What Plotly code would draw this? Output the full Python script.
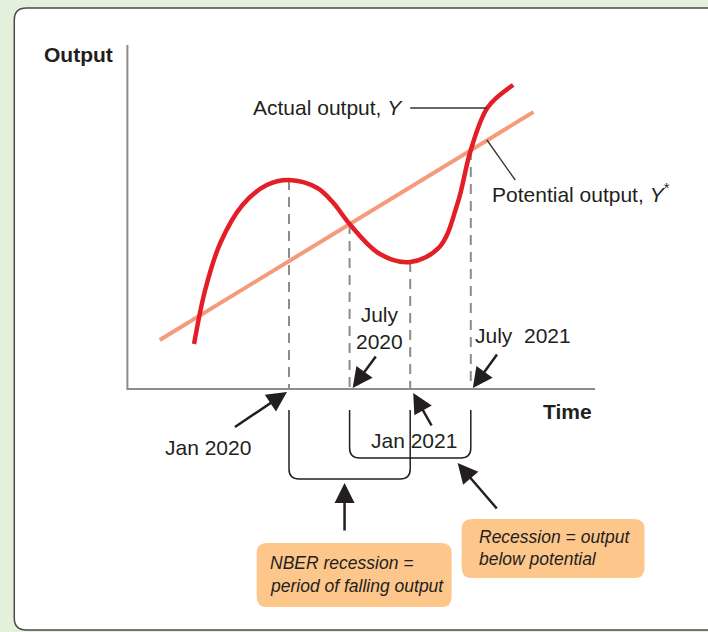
import plotly.graph_objects as go

# time in months counted from January 2020, output in index units
months = [-9.4, -8.3, -6.8, -4.6, -2.2, 0, 2.8, 4.4, 6, 9.0, 12, 14.9, 16.7, 18,
          19.7, 22.2]
actual_output = [4.5, 9.9, 14.6, 18.4, 20.4, 20.9, 20.1, 18.6, 16.5, 13.5, 12.7,
                 14.2, 18.6, 23.9, 28.2, 30.4]
potential_months = [-12.8, 24.2]
potential_output = [4.9, 27.7]

event_months = [0, 6, 12, 18]
event_labels = ["Jan 2020", "July<br>2020", "Jan 2021", "July\u00a0 2021"]
nber_recession = [0, 12]        # peak to trough
below_potential = [6, 18]       # output under potential

RED = "#e41e26"
SALMON = "#f59b7b"
GREY = "#8c8c8c"
INK = "#231f20"
ORANGE = "#fdc68b"
FONT = "Liberation Sans, Arial, sans-serif"

y_axis_at = -16.0
x_axis_end = 30.3
y_axis_top = 34.4


def rounded_rect(x0, x1, y0, y1, r=1.0):
    return (f"M {x0+r},{y1} L {x1-r},{y1} Q {x1},{y1} {x1},{y1-r} "
            f"L {x1},{y0+r} Q {x1},{y0} {x1-r},{y0} L {x0+r},{y0} "
            f"Q {x0},{y0} {x0},{y0+r} L {x0},{y1-r} Q {x0},{y1} {x0+r},{y1} Z")


def bracket(x0, x1, top, bottom, r=1.0):
    return (f"M {x0},{top} L {x0},{bottom+r} Q {x0},{bottom} {x0+r},{bottom} "
            f"L {x1-r},{bottom} Q {x1},{bottom} {x1},{bottom+r} L {x1},{top}")


def value_at(m):
    return actual_output[months.index(m)]


fig = go.Figure()

# axes
fig.add_trace(go.Scatter(x=[y_axis_at, y_axis_at, x_axis_end], y=[y_axis_top, 0, 0],
                         mode="lines", line=dict(color=GREY, width=2)))

# dashed drop lines
for m in event_months:
    fig.add_trace(go.Scatter(x=[m, m], y=[value_at(m), 0], mode="lines",
                             line=dict(color=GREY, width=2, dash="10px,7px")))

fig.add_trace(go.Scatter(x=potential_months, y=potential_output, mode="lines",
                         line=dict(color=SALMON, width=4)))
fig.add_trace(go.Scatter(x=months, y=actual_output, mode="lines",
                         line=dict(color=RED, width=4.5, shape="spline", smoothing=1)))

# leader lines
fig.add_trace(go.Scatter(x=[12.0, 19.6], y=[28.1, 28.1], mode="lines",
                         line=dict(color="#333333", width=1.3)))
fig.add_trace(go.Scatter(x=[19.6, 22.4], y=[24.9, 20.9], mode="lines",
                         line=dict(color="#333333", width=1.3)))

shapes = [
    dict(type="path", path=rounded_rect(-27.2, 48, -24.1, 38.1, 1.2),
         fillcolor="white", line=dict(color="#4a4a4a", width=1.5), layer="below"),
    dict(type="path", path=bracket(nber_recession[0], nber_recession[1], -2.1, -9.0),
         line=dict(color=INK, width=1.5)),
    dict(type="path", path=bracket(below_potential[0], below_potential[1], -2.1, -6.9),
         line=dict(color=INK, width=1.5)),
    dict(type="path", path=rounded_rect(-3.2, 16.1, -21.8, -15.4), fillcolor=ORANGE,
         line=dict(width=0)),
    dict(type="path", path=rounded_rect(17.1, 35.2, -18.9, -13.0), fillcolor=ORANGE,
         line=dict(width=0)),
]

text_font = dict(family=FONT, size=21, color=INK)
annotations = [
    dict(x=-17.2, y=33.5, text="<b>Output</b>", xanchor="right"),
    dict(x=30.2, y=-2.2, text="<b>Time</b>", xanchor="right"),
    dict(x=11.5, y=28.2, text="Actual output, <i>Y</i>", xanchor="right"),
    dict(x=19.9, y=19.6, text="Potential output, <i>Y</i><sup>*</sup>", xanchor="left"),
]
label_pos = [(-8.0, -5.8), (9.0, 6.1), (12.4, -5.1), (23.2, 5.4)]
for (lx, ly), txt in zip(label_pos, event_labels):
    annotations.append(dict(x=lx, y=ly, text=txt, xanchor="center"))
for a in annotations:
    a.update(xref="x", yref="y", showarrow=False, yanchor="middle", font=text_font)

arrows = [((-5.5, -3.9), (-0.2, -0.3)), ((8.7, 3.4), (6.3, 0.1)),
          ((20.7, 3.6), (18.2, 0.1)), ((14.2, -3.8), (12.3, -0.4)),
          ((5.5, -14.3), (5.5, -9.4)), ((20.7, -12.1), (16.7, -7.4))]
for (tx, ty), (hx, hy) in arrows:
    annotations.append(dict(x=hx, y=hy, ax=tx, ay=ty, xref="x", yref="y",
                            axref="x", ayref="y", text="", showarrow=True,
                            arrowhead=2, arrowsize=1.6, arrowwidth=2.5,
                            arrowcolor=INK, standoff=0))

box_font = dict(family=FONT, size=17.5, color=INK)
box_lines = [(-2.1, -17.4, "NBER recession ="), (-2.1, -19.7, "period of falling output"),
             (18.6, -14.8, "Recession = output"), (18.6, -17.0, "below potential")]
for bx, by, txt in box_lines:
    annotations.append(dict(x=bx, y=by, text=f"<i>{txt}</i>", xref="x", yref="y",
                            xanchor="left", yanchor="middle", showarrow=False,
                            font=box_font))

fig.update_layout(
    width=708, height=632,
    margin=dict(l=0, r=0, t=0, b=0),
    paper_bgcolor="#e2f0dc", plot_bgcolor="#e2f0dc",
    showlegend=False,
    xaxis=dict(range=[-28.614, 41.485], visible=False, fixedrange=True),
    yaxis=dict(range=[-24.3, 38.9], visible=False, fixedrange=True),
    shapes=shapes, annotations=annotations,
)

fig.write_html("out.html", config={"displayModeBar": False},
               post_script="document.body.style.margin='0';")
